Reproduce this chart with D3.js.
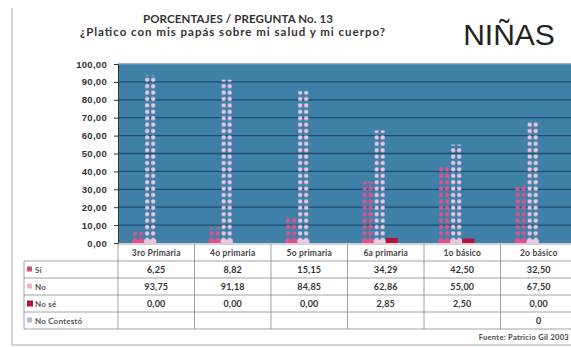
<!DOCTYPE html>
<html>
<head>
<meta charset="utf-8">
<script src="https://cdn.jsdelivr.net/npm/d3@7"></script>
<style>
  body { margin: 0; background: #fff; }
  svg { display: block; font-family: "Lato", "DejaVu Sans", sans-serif; }
</style>
</head>
<body>
<div id="chart"></div>
<script>
const width = 571, height = 347;

// data
const grades = ["3ro Primaria", "4o primaria", "5o primaria", "6a primaria", "1o básico", "2o básico"];
const seriesNames = ["Sí", "No", "No sé", "No Contestó"];
const si = [6.25, 8.82, 15.15, 34.29, 42.50, 32.50];
const no = [93.75, 91.18, 84.85, 62.86, 55.00, 67.50];
const noSe = [0, 0, 0, 2.85, 2.50, 0];
const noContesto = [null, null, null, null, null, 0];
const yTicks = [0, 10, 20, 30, 40, 50, 60, 70, 80, 90, 100];

const values = [si, no, noSe, noContesto];
const keyColors = ["#d64a80", "#f0b4cc", "#b3123e", "#b4bcd8"];

const margins = { top: 64, bottom: 243, left: 118, right: 577 };

const es = d3.formatLocale({ decimal: ",", thousands: ".", grouping: [3], currency: ["", ""] });
const fmt = es.format(".2f");

const svg = d3.select("#chart")
    .append("svg")
    .attr("width", width)
    .attr("height", height);

const defs = svg.append("defs");
// dotted fills for Sí and No
[["dotSi", "#e4508c"], ["dotNo", "#f2c6e2"]].forEach(([id, c]) => {
    const p = defs.append("pattern")
        .attr("id", id)
        .attr("patternUnits", "userSpaceOnUse")
        .attr("width", 6).attr("height", 6.4);
    p.append("rect").attr("x", 1).attr("y", 1.2).attr("width", 4).attr("height", 4)
        .attr("rx", 1.6).attr("fill", c);
});

const x = d3.scaleBand()
    .domain(grades)
    .range([margins.left, margins.right]);

const xs = d3.scaleBand()
    .domain(seriesNames)
    .range([0, x.bandwidth()])
    .paddingOuter(1.17);

const y = d3.scaleLinear()
    .domain([0, 100])
    .range([margins.bottom, margins.top]);

// plot background
svg.append("rect")
    .attr("x", margins.left).attr("y", margins.top)
    .attr("width", margins.right - margins.left)
    .attr("height", margins.bottom - margins.top)
    .attr("fill", "#3f80a8");

// grid
svg.append("g")
    .selectAll("line")
    .data(yTicks.filter(d => d > 0))
    .join("line")
    .attr("x1", margins.left).attr("x2", margins.right)
    .attr("y1", d => y(d)).attr("y2", d => y(d))
    .attr("stroke", d => d === 100 ? "#6f9dbb" : "#1f4e6c")
    .attr("stroke-width", 1.3);

// y axis
const yAxis = svg.append("g")
    .attr("transform", `translate(${margins.left},0)`)
    .call(d3.axisLeft(y).tickValues(yTicks).tickFormat(fmt).tickSize(4).tickPadding(7));
yAxis.select(".domain").attr("stroke", "#333");
yAxis.selectAll(".tick line").attr("stroke", "#333");
yAxis.selectAll(".tick text")
    .attr("font-size", 9.5).attr("font-weight", "bold").attr("fill", "#333")
    .attr("letter-spacing", 0.3);

// bars
const bars = svg.append("g");
grades.forEach((g, i) => {
    seriesNames.forEach((s, k) => {
        const v = values[k][i];
        if (v === null || v <= 0) return;
        const bx = x(g) + xs(s), bw = xs.bandwidth();
        const h = y(0) - y(v);
        const grp = bars.append("g").attr("transform", `translate(${bx},${y(0)})`);
        if (k < 2) {
            grp.append("rect")
                .attr("x", 0).attr("y", -h).attr("width", bw).attr("height", h)
                .attr("fill", k === 0 ? "url(#dotSi)" : "url(#dotNo)");
            grp.append("rect")
                .attr("x", 0).attr("y", -Math.min(3.5, h)).attr("width", bw).attr("height", Math.min(3.5, h))
                .attr("fill", k === 0 ? "#e4508c" : "#f2c6e2");
        } else {
            grp.append("rect")
                .attr("x", 0).attr("y", -h).attr("width", bw).attr("height", h)
                .attr("fill", keyColors[k]);
        }
    });
});

// data table
const rowH = 17;
const headTop = margins.bottom + 1, headBottom = 261;
const tableBottom = headBottom + rowH * seriesNames.length;
const legendLeft = 24;
const table = svg.append("g").attr("stroke", "#8a8a8a").attr("stroke-width", 0.8);

// horizontal lines
table.append("line")
    .attr("x1", margins.left).attr("x2", margins.right)
    .attr("y1", headTop).attr("y2", headTop);
d3.range(seriesNames.length + 1).forEach(r => {
    table.append("line")
        .attr("x1", legendLeft).attr("x2", margins.right)
        .attr("y1", headBottom + r * rowH).attr("y2", headBottom + r * rowH);
});
// vertical lines
table.append("line")
    .attr("x1", legendLeft).attr("x2", legendLeft)
    .attr("y1", headBottom).attr("y2", tableBottom);
grades.forEach(g => {
    table.append("line")
        .attr("x1", x(g)).attr("x2", x(g))
        .attr("y1", headTop).attr("y2", tableBottom);
});

// header labels
svg.append("g")
    .selectAll("text")
    .data(grades)
    .join("text")
    .attr("x", d => x(d) + x.bandwidth() / 2)
    .attr("y", (headTop + headBottom) / 2 + 3)
    .attr("text-anchor", "middle")
    .attr("font-size", 8.5)
    .attr("font-weight", "bold")
    .attr("letter-spacing", 0.2)
    .attr("fill", "#444")
    .text(d => d);

// legend keys
seriesNames.forEach((s, k) => {
    const cy = headBottom + k * rowH + rowH / 2;
    svg.append("rect")
        .attr("x", 27).attr("y", cy - 3)
        .attr("width", k === 2 ? 6 : 5).attr("height", k === 2 ? 6 : 5)
        .attr("fill", keyColors[k]);
    svg.append("text")
        .attr("x", 35).attr("y", cy + 3)
        .attr("font-size", 8)
        .attr("font-weight", "bold")
        .attr("letter-spacing", 0.2)
        .attr("fill", "#555")
        .text(s);
    grades.forEach((g, i) => {
        const v = values[k][i];
        if (v === null) return;
        svg.append("text")
            .attr("x", x(g) + x.bandwidth() / 2)
            .attr("y", cy + 3.5)
            .attr("text-anchor", "middle")
            .attr("font-size", 9)
            .attr("font-weight", "bold")
            .attr("letter-spacing", 0.2)
            .attr("fill", "#333")
            .text(k === 3 ? "0" : fmt(v));
    });
});

// frame
svg.append("line")
    .attr("x1", 12).attr("x2", 12).attr("y1", 8).attr("y2", 345)
    .attr("stroke", "#aaa").attr("stroke-width", 1);
svg.append("line")
    .attr("x1", 12).attr("x2", width).attr("y1", 345).attr("y2", 345)
    .attr("stroke", "#aaa").attr("stroke-width", 1);

// titles
svg.append("text")
    .attr("x", 143).attr("y", 23)
    .attr("textLength", 190).attr("lengthAdjust", "spacing")
    .attr("font-size", 11.5).attr("font-weight", "bold").attr("fill", "#333")
    .text("PORCENTAJES / PREGUNTA No. 13");
svg.append("text")
    .attr("x", 80).attr("y", 36)
    .attr("textLength", 305).attr("lengthAdjust", "spacing")
    .attr("font-size", 11.5).attr("font-weight", "bold").attr("fill", "#333")
    .text("¿Platico con mis papás sobre mi salud y mi cuerpo?");
svg.append("text")
    .attr("x", 509).attr("y", 45)
    .attr("text-anchor", "middle")
    .attr("font-family", "Liberation Sans, Arial, sans-serif")
    .attr("font-size", 30).attr("fill", "#222")
    .text("NIÑAS");
svg.append("text")
    .attr("x", 569).attr("y", 340)
    .attr("text-anchor", "end")
    .attr("font-size", 7.5).attr("font-weight", "bold").attr("fill", "#444")
    .attr("letter-spacing", 0.3)
    .text("Fuente: Patricio Gil 2003");
</script>
</body>
</html>
